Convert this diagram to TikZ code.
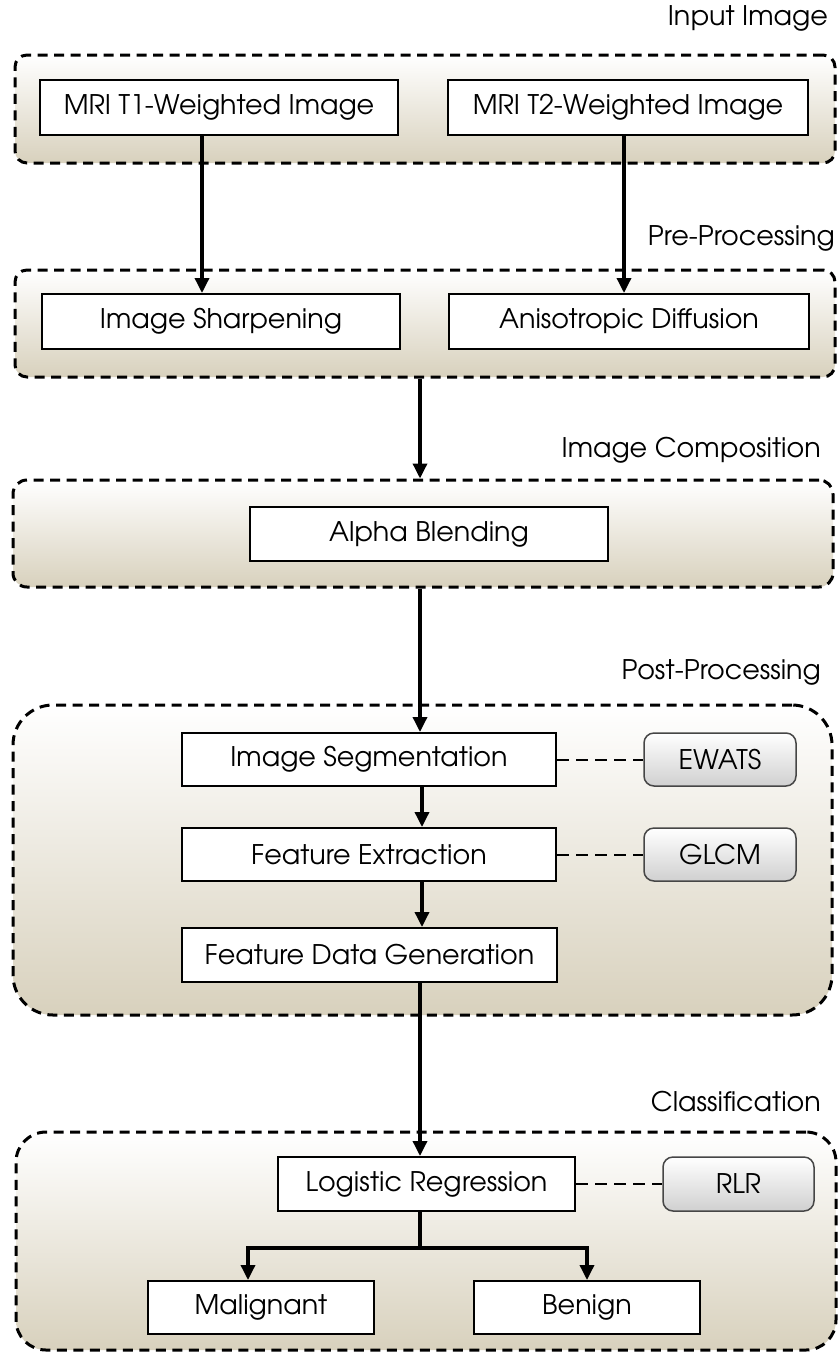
\documentclass[tikz,border=0pt]{standalone}
\usepackage{fontspec}
\setmainfont{TeX Gyre Adventor}
\usetikzlibrary{arrows.meta}
\definecolor{beige}{RGB}{216,209,189}
\definecolor{lgray}{RGB}{208,208,208}
\definecolor{bgray}{RGB}{70,70,70}
\begin{document}
\begin{tikzpicture}[x=1pt,y=-1pt,
  grp/.style={draw=black, line width=3pt, dash pattern=on 10pt off 6.5pt,
    top color=white, bottom color=beige, inner sep=0pt},
  box/.style={draw=black, line width=2pt, fill=white, inner sep=0pt,
    font=\fontsize{27}{32}\selectfont},
  tool/.style={draw=bgray, line width=1.5pt, rounded corners=10pt, top color=white,
    bottom color=lgray, inner sep=0pt, font=\fontsize{27}{32}\selectfont},
  glabel/.style={anchor=east, inner sep=0pt, font=\fontsize{27}{32}\selectfont},
  arr/.style={line width=3.4pt, -{Triangle[width=14pt,length=15pt]}},
  ln/.style={line width=3.4pt},
  dline/.style={line width=2pt, dash pattern=on 12pt off 7pt}
]
\useasboundingbox (0,0) rectangle (839,1353);

% groups
\node[grp, rounded corners=12pt, minimum width=820pt, minimum height=108pt] (g1) at (425,109) {};
\node[grp, rounded corners=12pt, minimum width=820pt, minimum height=107pt] (g2) at (425,323.5) {};
\node[grp, rounded corners=14pt, minimum width=820pt, minimum height=107pt] (g3) at (423,533.5) {};
\node[grp, rounded corners=40pt, minimum width=819pt, minimum height=310pt] (g4) at (422.5,860) {};
\node[grp, rounded corners=30pt, minimum width=820pt, minimum height=218pt] (g5) at (426,1241) {};

% group labels
\node[glabel] (l1) at (828,18) {Input Image};
\node[glabel] (l2) at (835,238) {Pre-Processing};
\node[glabel] (l3) at (821,450) {Image Composition};
\node[glabel] (l4) at (821,672) {Post-Processing};
\node[glabel] (l5) at (821,1102) {Classification};

% boxes
\node[box, minimum width=358pt, minimum height=55pt] (t1) at (219,107.5) {MRI T1-Weighted Image};
\node[box, minimum width=360pt, minimum height=55pt] (t2) at (628,107.5) {MRI T2-Weighted Image};
\node[box, minimum width=358pt, minimum height=55pt] (sharp) at (221,321.5) {Image Sharpening};
\node[box, minimum width=360pt, minimum height=55pt] (aniso) at (629,321.5) {Anisotropic Diffusion};
\node[box, minimum width=358pt, minimum height=54pt] (alpha) at (429,534) {Alpha Blending};
\node[box, minimum width=374pt, minimum height=53pt] (seg) at (369,759.5) {Image Segmentation};
\node[box, minimum width=374pt, minimum height=53pt] (feat) at (369,854.5) {Feature Extraction};
\node[box, minimum width=375pt, minimum height=54pt] (fdg) at (369.5,955) {Feature Data Generation};
\node[tool, minimum width=152pt, minimum height=53pt] (ewats) at (720,759.5) {EWATS};
\node[tool, minimum width=152pt, minimum height=53pt] (glcm) at (720,854.5) {GLCM};
\node[box, minimum width=297pt, minimum height=54pt] (lr) at (426.5,1184) {Logistic Regression};
\node[tool, minimum width=151pt, minimum height=54pt] (rlr) at (738.5,1184) {RLR};
\node[box, minimum width=226pt, minimum height=53pt] (mal) at (261,1307.5) {Malignant};
\node[box, minimum width=226pt, minimum height=53pt] (ben) at (587,1307.5) {Benign};

% connector x positions
\coordinate (xa) at (202,0);
\coordinate (xb) at (624,0);
\coordinate (xc) at (420,0);
\coordinate (xd) at (422,0);
\coordinate (xm) at (248,0);
\coordinate (xn) at (587,0);
\coordinate (br) at (420,1248);

\draw[arr] (t1.south -| xa) -- (sharp.north -| xa);
\draw[arr] (t2.south -| xb) -- (aniso.north -| xb);
\draw[arr] (g2.south -| xc) -- (g3.north -| xc);
\draw[arr] (g3.south -| xc) -- (seg.north -| xc);
\draw[arr] (seg.south -| xd) -- (feat.north -| xd);
\draw[arr] (feat.south -| xd) -- (fdg.north -| xd);
\draw[arr] (fdg.south -| xc) -- (lr.north -| xc);
\draw[ln] (lr.south -| xc) -- (br);
\draw[arr] (br) -| (mal.north -| xm);
\draw[arr] (br) -| (ben.north -| xn);

\draw[dline] (seg.east) -- (ewats.west);
\draw[dline] (feat.east) -- (glcm.west);
\draw[dline] (lr.east) -- (rlr.west);
\end{tikzpicture}
\end{document}
